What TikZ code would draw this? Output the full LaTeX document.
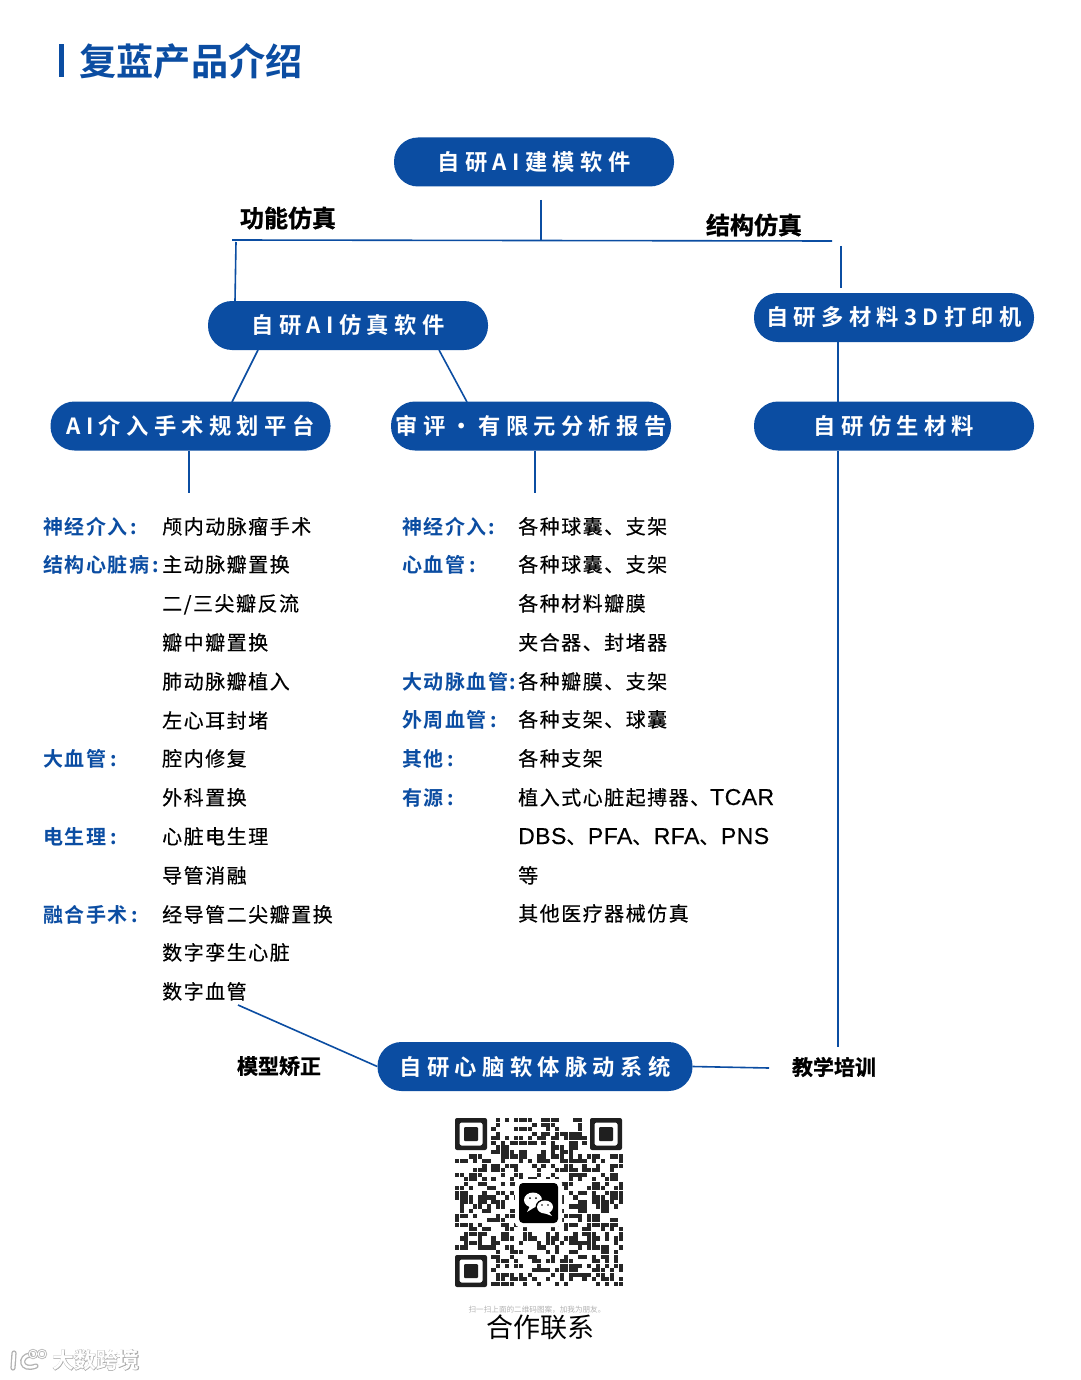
\documentclass[tikz,border=0pt]{standalone}
\usepackage{fontspec}
\setmainfont{Noto Sans CJK SC}
\newfontfamily\cjkb{Noto Sans CJK SC Bold}
\newfontfamily\cjkfat[FakeBold=1]{Noto Sans CJK SC Bold}
\newfontfamily\cjkglow[FakeBold=3]{Noto Sans CJK SC Bold}
\newfontfamily\cjkpill[LetterSpace=24]{Noto Sans CJK SC Bold}
\newfontfamily\cjklist[LetterSpace=7.5,FakeBold=0.35]{Noto Sans CJK SC}
\newfontfamily\cjkhead[LetterSpace=7.5]{Noto Sans CJK SC Bold}
\newfontfamily\latinlist[LetterSpace=2,FakeBold=0.25]{Liberation Sans}
\newcommand{\lat}[1]{{\latinlist\fontsize{23}{25}\selectfont #1}}
\newcommand{\pilltext}[1]{\raisebox{-1pt}{#1}}
\definecolor{fublue}{HTML}{0B4DA2}
\newcount\qrseed
\qrseed=4711
\tikzset{
  x=1pt,y=-1pt,
  pill/.style={fill=fublue,text=white,rounded corners=24pt,minimum height=49pt,inner sep=0pt,font=\cjkpill\fontsize{22.3}{24}\selectfont,anchor=center},
  rowtext/.style={anchor=base west,inner sep=0pt,font=\cjklist\fontsize{20}{22}\selectfont,text=black},
  rowhead/.style={anchor=base west,inner sep=0pt,font=\cjkhead\fontsize{20}{22}\selectfont,text=fublue},
  edgelabel/.style={anchor=center,inner sep=0pt,font=\cjkfat\fontsize{24}{26}\selectfont,text=black},
  wire/.style={draw=fublue,line width=1.6pt},
}
\begin{document}
\begin{tikzpicture}
\useasboundingbox (0,0) rectangle (1080,1380);
\fill[white] (0,0) rectangle (1080,1380);
% title
\fill[fublue] (59,44) rectangle (64,77);
\node[anchor=center,inner sep=0pt,text=fublue,font=\cjkb\fontsize{37.2}{39}\selectfont] (title) at (191,61) {复蓝产品介绍};
% pills
\node[pill,minimum width=280pt] (modelsw) at (534,162) {\pilltext{自研AI建模软件}};
\node[pill,minimum width=280pt] (simsw) at (348,325.5) {\pilltext{自研AI仿真软件}};
\node[pill,minimum width=280pt] (printer) at (894,317.5) {\pilltext{自研多材料3D打印机}};
\node[pill,minimum width=280pt] (plan) at (190.5,426) {\pilltext{AI介入手术规划平台}};
\node[pill,minimum width=280pt] (report) at (531,426) {\pilltext{审评・有限元分析报告}};
\node[pill,minimum width=280pt] (material) at (894,426) {\pilltext{自研仿生材料}};
\node[pill,minimum width=315pt] (pulse) at (535,1066.5) {\pilltext{自研心脑软体脉动系统}};
% edge labels
\node[edgelabel] (lfunc) at (288,218) {功能仿真};
\node[edgelabel] (lstruct) at (754,225) {结构仿真};
\node[edgelabel,font=\cjkfat\fontsize{21}{23}\selectfont] (lcal) at (279,1066) {模型矫正};
\node[edgelabel,font=\cjkfat\fontsize{21}{23}\selectfont] (lteach) at (834,1067) {教学培训};
% connector ends
\coordinate (topdrop) at (541,200);
\coordinate (topj) at (541,241);
\coordinate (busl) at (232,240);
\coordinate (busr) at (832,241);
\coordinate (busdl) at (236,242);
\coordinate (printtop) at (841,246);
\coordinate (printtopb) at (841,288);
\coordinate (plandrop) at (189,493);
\coordinate (reportdrop) at (535,493);
\coordinate (listend) at (238,1005);
\coordinate (teachend) at (769,1068);
\draw[wire] (topdrop) -- (topj);
\draw[wire] (busl) -- (busr);
\draw[wire] (busdl) -- (235,301);
\draw[wire] (printtop) -- (printtopb);
\draw[wire] (258,350) -- (232,402);
\draw[wire] (439,350) -- (467,402);
\draw[wire] (838,342) -- (838,402);
\draw[wire] (838,451) -- (838,1047);
\draw[wire] (189,451) -- (plandrop);
\draw[wire] (535,451) -- (reportdrop);
\draw[wire] (listend) -- (pulse.west);
\draw[wire] (pulse.east) -- (teachend);
% column 1
\foreach \nm/\yy/\tx in {a1/527/神经介入\hspace{3pt}:,a2/565/结构心脏病\hspace{3pt}:,a3/759/大血管\hspace{4pt}:,a4/837/电生理\hspace{4pt}:,a5/915/融合手术\hspace{4pt}:}
  \node[rowhead] (\nm) at (43,\yy+7) {\tx};
\foreach \nm/\yy/\tx in {b1/527/颅内动脉瘤手术,b2/565/主动脉瓣置换,b3/604/{二/三尖瓣反流},b4/643/瓣中瓣置换,b5/682/肺动脉瓣植入,b6/721/左心耳封堵,b7/759/腔内修复,b8/798/外科置换,b9/837/心脏电生理,b10/876/导管消融,b11/915/经导管二尖瓣置换,b12/953/数字孪生心脏,b13/992/数字血管}
  \node[rowtext] (\nm) at (162,\yy+7) {\tx};
% column 2
\foreach \nm/\yy/\tx in {c1/527/神经介入:,c2/565/心血管\hspace{4pt}:,c3/682/大动脉血管\hspace{1pt}:,c4/720/外周血管\hspace{4pt}:,c5/759/其他\hspace{4pt}:,c6/798/有源\hspace{4pt}:}
  \node[rowhead] (\nm) at (402,\yy+7) {\tx};
\foreach \nm/\yy/\tx in {d1/527/各种球囊、支架,d2/565/各种球囊、支架,d3/604/各种材料瓣膜,d4/643/夹合器、封堵器,d5/682/各种瓣膜、支架,d6/720/各种支架、球囊,d7/759/各种支架,d8/876/等,d9/914/其他医疗器械仿真}
  \node[rowtext] (\nm) at (518,\yy+7) {\tx};
\node[rowtext] (d10) at (518,805) {植入式心脏起搏器、\lat{TCAR}};
\node[rowtext] (d11) at (518,844) {\lat{DBS}、\hspace{1.5pt}\lat{PFA}、\hspace{1.5pt}\lat{RFA}、\hspace{1.5pt}\lat{PNS}};
% QR code
\foreach \i in {0,...,36}{
  \foreach \j in {0,...,36}{
    \global\qrseed=\numexpr\qrseed*1103+12345\relax
    \global\qrseed=\numexpr\qrseed-65536*((\qrseed-32767)/65536)\relax
    \ifnum\numexpr(\qrseed-4095)/8192\relax<4
      \pgfmathtruncatemacro{\skipit}{(\i<8 && \j<8) || (\i>28 && \j<8) || (\i<8 && \j>28) ? 1 : 0}
      \ifnum\skipit=0
        \fill[black!85] ({455+4.55*\i},{1118+4.55*\j}) rectangle +(4.2,4.2);
      \fi
    \fi
  }
}
\foreach \qx/\qy in {455/1118,590/1118,455/1255}{
  \fill[black!88,rounded corners=2pt,even odd rule] (\qx,\qy) rectangle +(32,32) (\qx+4.5,\qy+4.5) rectangle +(23,23);
  \fill[black!88,rounded corners=1pt] (\qx+9,\qy+9) rectangle +(14,14);
}
\fill[white,rounded corners=4pt] (515,1179) rectangle (562,1227);
\fill[black,rounded corners=4pt] (519,1183) rectangle (558,1223);
\fill[white] (533,1200) ellipse [x radius=9,y radius=7.5];
\fill[white] (530,1206) -- (527,1212) -- (535,1207) -- cycle;
\fill[black] (545,1207) ellipse [x radius=9.5,y radius=8];
\fill[white] (545,1207) ellipse [x radius=8,y radius=6.5];
\fill[white] (549,1212) -- (552,1216) -- (544,1213) -- cycle;
\fill[black] (530,1198) circle (1) (536,1198) circle (1) (542,1205) circle (.9) (548,1205) circle (.9);
% caption
\node[anchor=center,inner sep=0pt,text=black!30,font=\fontsize{7.6}{8}\selectfont] (qrcap) at (537,1310) {扫一扫上面的二维码图案，加我为朋友。};
\node[anchor=center,inner sep=0pt,text=black,font=\fontsize{27}{29}\selectfont] (contact) at (540,1327) {合作联系};
% watermark
\foreach \lw/\col in {5.2/black!30,2.6/white}{
  \draw[\col,line width=\lw pt,line cap=round] (14,1353) -- (13,1368);
  \draw[\col,line width=\lw pt,line cap=round] (30,1355) .. controls (19,1356) and (20,1372) .. (36,1366);
}
\draw[black!30,line width=2.6pt] (33,1354) circle (3.8) (42,1354) circle (3.8);
\draw[white,line width=1pt] (33,1354) circle (3.8) (42,1354) circle (3.8);
\node[anchor=center,inner sep=0pt,text=black!35,font=\cjkglow\fontsize{21.8}{23}\selectfont] (wmglow) at (96,1360) {大数跨境};
\node[anchor=center,inner sep=0pt,text=white,font=\cjkb\fontsize{21.8}{23}\selectfont] (wm) at (96,1360) {大数跨境};
\end{tikzpicture}
\end{document}
